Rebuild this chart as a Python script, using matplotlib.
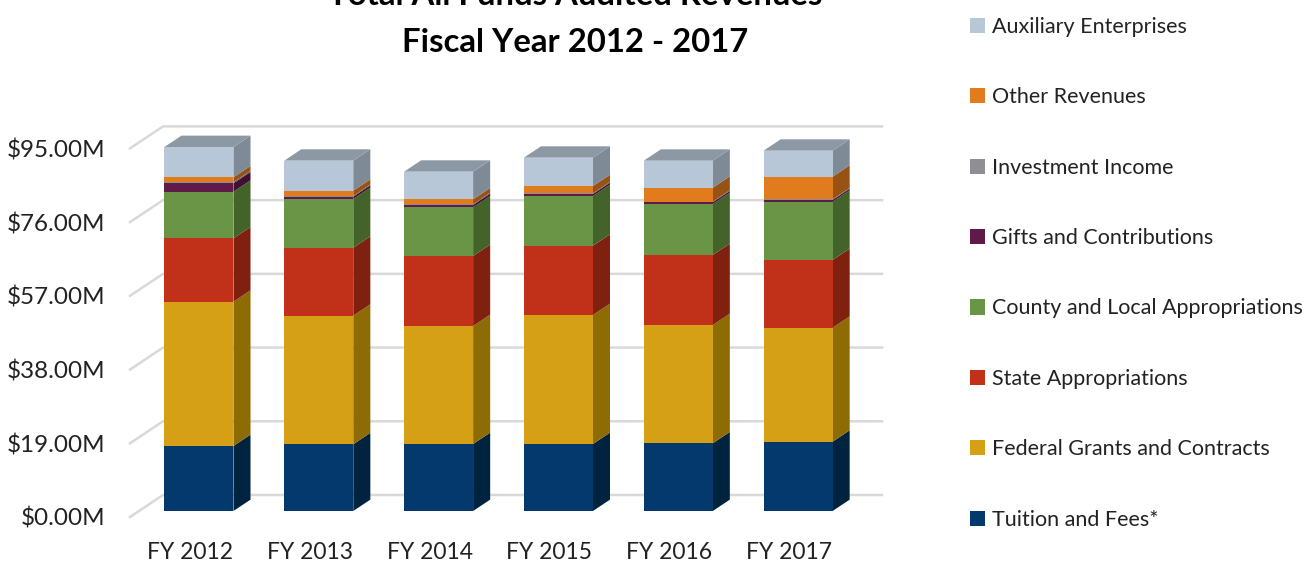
import numpy as np
import matplotlib
matplotlib.use('Agg')
import matplotlib.pyplot as plt
from matplotlib.patches import Polygon, Patch

plt.rcParams['font.family'] = 'Lato'

#----------------------------DATA-----------------------------------#
years = ['FY 2012', 'FY 2013', 'FY 2014', 'FY 2015', 'FY 2016', 'FY 2017']

tuition = [16.75, 17.20, 17.27, 17.27, 17.45, 17.86]
federal = [37.19, 33.15, 30.41, 33.25, 30.49, 29.38]
state = [16.34, 17.52, 18.04, 17.86, 18.04, 17.45]
county = [12.01, 12.55, 12.55, 12.81, 13.14, 15.03]
gifts = [2.17, 0.60, 0.60, 0.51, 0.44, 0.43]
investment = [0.30, 0.20, 0.20, 0.20, 0.20, 0.20]
other = [1.25, 1.34, 1.27, 1.86, 3.57, 5.81]
auxiliary = [7.80, 7.73, 7.11, 7.30, 6.95, 6.70]

series_names = ['Tuition and Fees*', 'Federal Grants and Contracts', 'State Appropriations',
                'County and Local Appropriations', 'Gifts and Contributions',
                'Investment Income', 'Other Revenues', 'Auxiliary Enterprises']
series_vals = [tuition, federal, state, county, gifts, investment, other, auxiliary]

y_ticks = [0, 19, 38, 57, 76, 95]
#---------------------------DATA-------------------------------------#

front_cols = ['#03396C', '#D6A016', '#C1311A', '#6A9446', '#601A4A', '#8E8E93', '#E07B1E', '#B8C7D7']
side_cols = ['#00243F', '#8D6B05', '#80200F', '#44632B', '#3F1030', '#5F5F63', '#985214', '#7E8B97']
top_col = '#8C99A5'
grid_col = '#D9D9D9'
txt_col = '#222222'

# fake 3d depth (x in category units, y in $M)
DXw, DYw = 0.2755, 5.67      # full depth to back wall
f0, f1 = 0.273, 0.79         # bar front / back depth fraction
w = 0.576

fig = plt.figure(figsize=(13.15, 5.63), dpi=100)
ax = fig.add_axes([130 / 1315, 46 / 563, 719 / 1315, 368.6 / 563])
ax.set_xlim(-0.5, 5.5)
ax.set_ylim(0, 95)

# back wall gridlines with short diagonal on the left wall
for v in y_ticks:
    ax.plot([-0.5, -0.5 + DXw, 5.5 + DXw], [v, v + DYw, v + DYw],
            color=grid_col, lw=1.8, clip_on=False, zorder=1)

x = np.arange(len(years))
ox, oy = f0 * DXw, f0 * DYw
ddx, ddy = (f1 - f0) * DXw, (f1 - f0) * DYw

bottoms = np.zeros(len(years))
for vals, fc, sc in zip(series_vals, front_cols, side_cols):
    vals = np.array(vals)
    ax.bar(x + ox, vals, width=w, bottom=bottoms + oy, color=fc, zorder=3, clip_on=False)
    for i in range(len(years)):
        xr = x[i] + ox + w / 2
        b = bottoms[i] + oy
        t = b + vals[i]
        ax.add_patch(Polygon([(xr, b), (xr + ddx, b + ddy), (xr + ddx, t + ddy), (xr, t)],
                             closed=True, facecolor=sc, edgecolor='none', zorder=2, clip_on=False))
    bottoms = bottoms + vals

# top faces
for i in range(len(years)):
    xl = x[i] + ox - w / 2
    xr = x[i] + ox + w / 2
    t = bottoms[i] + oy
    ax.add_patch(Polygon([(xl, t), (xr, t), (xr + ddx, t + ddy), (xl + ddx, t + ddy)],
                         closed=True, facecolor=top_col, edgecolor='none', zorder=2, clip_on=False))

for s in ax.spines.values():
    s.set_visible(False)
ax.set_xticks(x)
ax.set_xticklabels(years, fontsize=16.5, color=txt_col)
ax.set_yticks(y_ticks)
ax.set_yticklabels([f'${v:.2f}M' for v in y_ticks], fontsize=17.5, color=txt_col)
ax.tick_params(axis='x', length=0, pad=18)
ax.tick_params(axis='y', length=0, pad=18)

# title (first line is cut at the top like in the source)
fig.text(575 / 1315, 1 - 5 / 563, 'Total All Funds Audited Revenues', ha='center', va='baseline',
         fontsize=23.7, fontweight='bold', color='black')
fig.text(575 / 1315, 1 - 52 / 563, 'Fiscal Year 2012 - 2017', ha='center', va='baseline',
         fontsize=23.7, fontweight='bold', color='black')

# legend
handles = [Patch(facecolor=c, edgecolor='none') for c in front_cols][::-1]
leg = fig.legend(handles, series_names[::-1], loc='upper left',
                 bbox_to_anchor=(970 / 1315, 1 - 17 / 563), frameon=False,
                 fontsize=15.5, labelspacing=2.34, handlelength=0.7, handleheight=0.7,
                 handletextpad=0.3, borderpad=0, borderaxespad=0)
for t in leg.get_texts():
    t.set_color(txt_col)

fig.savefig('out.png', dpi=100)
